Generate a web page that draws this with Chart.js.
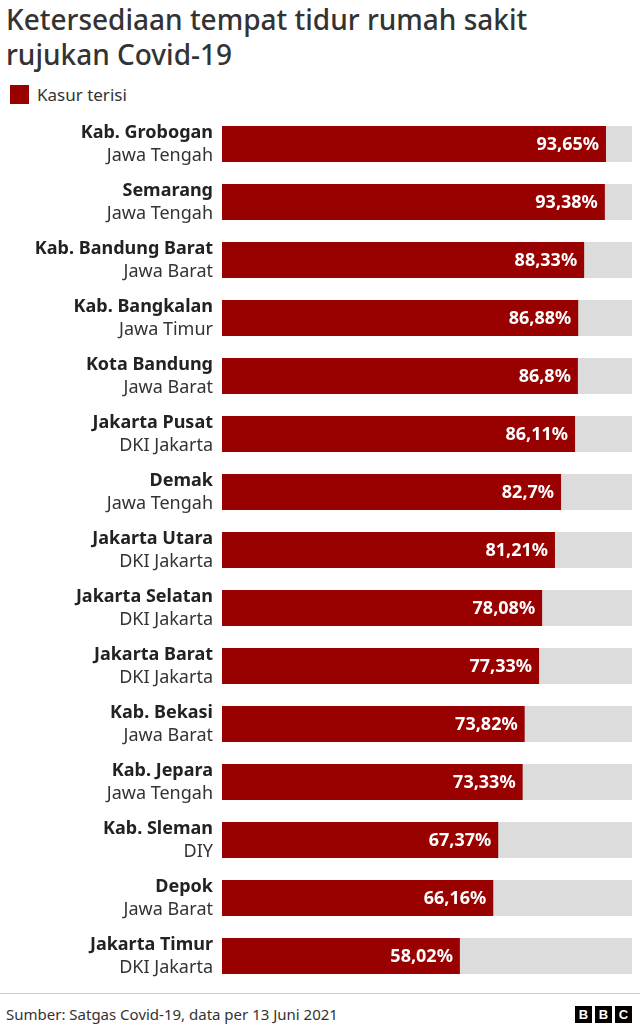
<!DOCTYPE html>
<html><head><meta charset="utf-8">
<script src="https://cdn.jsdelivr.net/npm/chart.js@4"></script>
<style>
body{margin:0;width:640px;height:1029px;background:#fff;font-family:"Noto Sans",sans-serif;position:relative;overflow:hidden;color:#222}
#title{position:absolute;left:6px;top:2px;font-size:28px;line-height:35px;color:#333;font-weight:500}
#legend{position:absolute;left:10px;top:83px;font-size:17px;color:#333;display:flex;align-items:center}
#legend span{display:inline-block;width:19px;height:19px;background:#990000;margin-right:8px}
#wrap{position:absolute;left:0;top:115px;width:640px;height:870px}
#foot{position:absolute;left:0;top:993px;width:640px;border-top:1px solid #ccc}
#src{position:absolute;left:6px;top:1004px;font-size:15px;color:#333}
#bbc{position:absolute;right:8px;top:1006px;display:flex;gap:3px}
#bbc div{width:17px;height:17px;background:#000;color:#fff;font:bold 13px "Liberation Sans",sans-serif;text-align:center;line-height:17px}
</style></head><body>
<div id="title">Ketersediaan tempat tidur rumah sakit<br>rujukan Covid-19</div>
<div id="legend"><span></span>Kasur terisi</div>
<div id="wrap"><canvas id="c"></canvas></div>
<div id="foot"></div>
<div id="src">Sumber: Satgas Covid-19, data per 13 Juni 2021</div>
<div id="bbc"><div>B</div><div>B</div><div>C</div></div>
<script>
const names=["Kab. Grobogan","Semarang","Kab. Bandung Barat","Kab. Bangkalan","Kota Bandung","Jakarta Pusat","Demak","Jakarta Utara","Jakarta Selatan","Jakarta Barat","Kab. Bekasi","Kab. Jepara","Kab. Sleman","Depok","Jakarta Timur"];
const provinces=["Jawa Tengah","Jawa Tengah","Jawa Barat","Jawa Timur","Jawa Barat","DKI Jakarta","Jawa Tengah","DKI Jakarta","DKI Jakarta","DKI Jakarta","Jawa Barat","Jawa Tengah","DIY","Jawa Barat","DKI Jakarta"];
const values=[93.65,93.38,88.33,86.88,86.8,86.11,82.7,81.21,78.08,77.33,73.82,73.33,67.37,66.16,58.02];
const valueLabels=["93,65%","93,38%","88,33%","86,88%","86,8%","86,11%","82,7%","81,21%","78,08%","77,33%","73,82%","73,33%","67,37%","66,16%","58,02%"];
const full=values.map(()=>100);
const labelPlugin={id:'lbl',afterDatasetsDraw(ch){
 const ctx=ch.ctx,y=ch.scales.y,x=ch.scales.x;
 ctx.save();
 names.forEach((n,i)=>{
  const cy=y.getPixelForValue(i);
  ctx.textAlign='right';ctx.textBaseline='middle';ctx.fillStyle='#222';
  ctx.font='bold 18px "Noto Sans"';ctx.fillText(n,213,cy-11);
  ctx.font='18px "Noto Sans"';ctx.fillStyle='#333';ctx.fillText(provinces[i],213,cy+12);
  ctx.font='bold 18px "Noto Sans"';ctx.fillStyle='#fff';
  ctx.fillText(valueLabels[i],x.getPixelForValue(values[i])-7,cy+1);
 });
 ctx.restore();}};
new Chart(document.getElementById('c'),{type:'bar',
 data:{labels:names,datasets:[
  {data:values,backgroundColor:'#990000',barPercentage:0.62,categoryPercentage:1,order:0},
  {data:full,backgroundColor:'#dcdcdc',barPercentage:0.62,categoryPercentage:1,order:1}]},
 options:{indexAxis:'y',responsive:true,maintainAspectRatio:false,animation:false,
  layout:{padding:{left:222,right:8,top:0,bottom:0}},
  plugins:{legend:{display:false},tooltip:{enabled:false}},
  datasets:{bar:{grouped:false}},
  scales:{x:{display:false,min:0,max:100},y:{display:false}}},
 plugins:[labelPlugin]});
</script></body></html>
